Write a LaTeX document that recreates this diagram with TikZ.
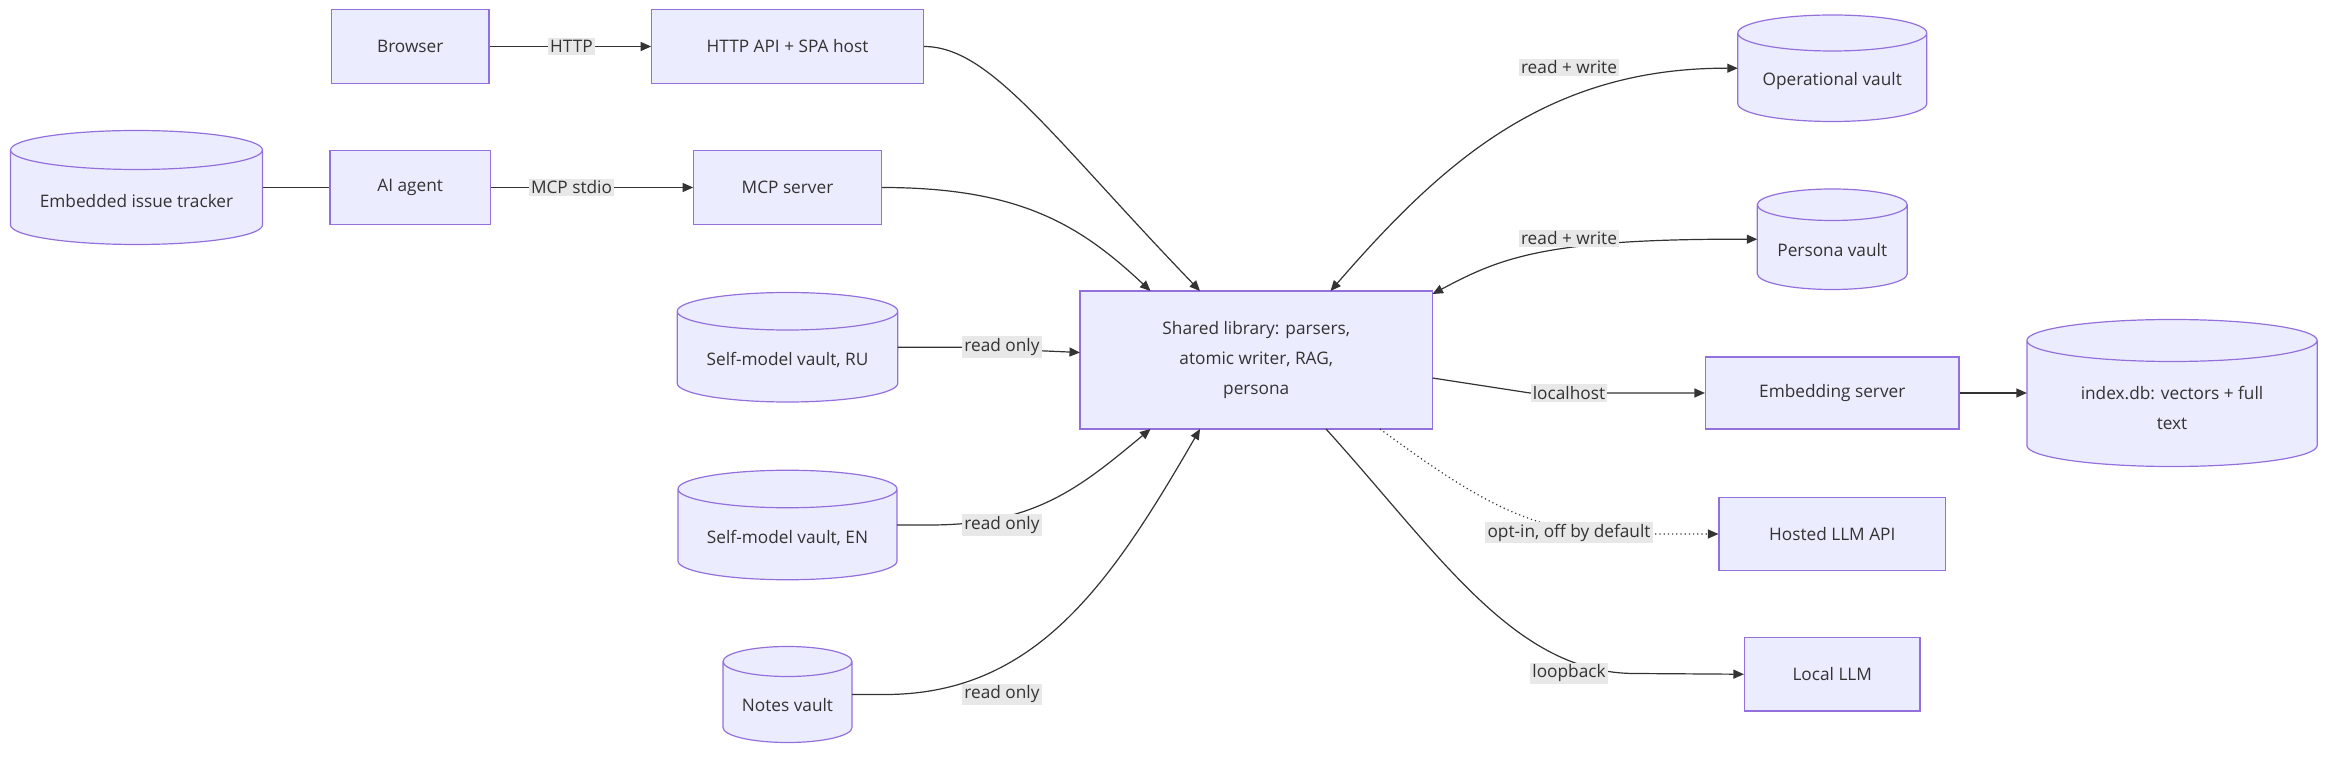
\documentclass[tikz,border=0pt]{standalone}
\usepackage{fontspec}
\setmainfont{Open Sans}
\usetikzlibrary{arrows.meta}
\definecolor{boxfill}{HTML}{ECECFF}
\definecolor{boxline}{HTML}{9370DB}
\definecolor{txt}{HTML}{333333}
\definecolor{lblbg}{HTML}{E8E8E8}
\tikzset{
  box/.style={draw=boxline, fill=boxfill, line width=0.8pt, text=txt, inner sep=0pt, align=center},
  cyltext/.style={text=txt, align=center, inner sep=0pt},
  anchorbox/.style={inner sep=0pt, outer sep=0pt},
  lbl/.style={fill=lblbg, text=txt, inner sep=1.5pt},
  edge/.style={draw=txt, line width=0.8pt},
  tip/.style={-{Triangle[length=7pt,width=6pt]}},
  every node/.append style={font=\fontsize{11.5}{20}\selectfont}
}
% name, cx, cy, w, h, ry, text
\newcommand\mycyl[7]{%
  \draw[draw=boxline, fill=boxfill, line width=0.8pt]
    ({#2-#4/2},{#3-#5/2+#6}) -- ({#2-#4/2},{#3+#5/2-#6})
    arc[start angle=180, end angle=0, x radius=#4/2, y radius=#6]
    -- ({#2+#4/2},{#3-#5/2+#6})
    arc[start angle=0, end angle=-180, x radius=#4/2, y radius=#6]
    arc[start angle=180, end angle=0, x radius=#4/2, y radius=#6];
  \node[anchorbox, minimum width=#4, minimum height=#5] (#1) at (#2,#3) {};
  \node[cyltext] (#1t) at (#2,{#3+#6*0.7}) {#7};
}
\begin{document}
\begin{tikzpicture}[x=1pt, y=-1pt]
\useasboundingbox (0,0) rectangle (1568,510);
% boxes
\node[box, minimum width=105, minimum height=49] (browser) at (273.5,31) {Browser};
\node[box, minimum width=181, minimum height=49] (api) at (525,31) {HTTP API + SPA host};
\node[box, minimum width=107, minimum height=49] (agent) at (273.5,125) {AI agent};
\node[box, minimum width=125, minimum height=49] (mcp) at (525,125) {MCP server};
\node[box, minimum width=235, minimum height=92] (shared) at (837.5,240) {Shared library: parsers,\\atomic writer, RAG,\\persona};
\node[box, minimum width=169, minimum height=48] (emb) at (1221.5,262) {Embedding server};
\node[box, minimum width=151, minimum height=48.5] (hosted) at (1221.5,356) {Hosted LLM API};
\node[box, minimum width=117, minimum height=49] (local) at (1221.5,449.5) {Local LLM};
% cylinders
\mycyl{tracker}{91}{125}{168}{76}{13}{Embedded issue tracker}
\mycyl{ru}{525}{231.5}{147}{73}{12.5}{Self-model vault, RU}
\mycyl{en}{525}{350}{146}{73}{12.5}{Self-model vault, EN}
\mycyl{notes}{525}{463}{86}{64}{10}{Notes vault}
\mycyl{op}{1221.5}{45.5}{126}{71}{12}{Operational vault}
\mycyl{persona}{1221.5}{159.5}{100}{67}{10.5}{Persona vault}
\mycyl{index}{1448}{262}{193.5}{98}{14}{index.db: vectors + full\\text}
% coordinates on shared
\coordinate (sA) at (767,194);
\coordinate (sB) at (800,194);
\coordinate (sC) at (887,194);
\coordinate (sD) at (955,196);
\coordinate (sE) at (955,252);
\coordinate (sF) at (767,286);
\coordinate (sG) at (800,286);
\coordinate (sH) at (884,286);
\coordinate (sI) at (920,286);
\coordinate (sL) at (720,235);
% edges
\draw[edge, tip] (browser) -- (api);
\draw[edge] (tracker) -- (agent);
\draw[edge, tip] (agent) -- (mcp);
\draw[edge, tip] (api.east) .. controls (660,31) and (700,90) .. (sB);
\draw[edge, tip] (mcp.east) .. controls (680,125) and (720,150) .. (sA);
\draw[edge, tip] (ru.east) -- (640,231.5) -- (sL);
\draw[edge, tip] (en.east) -- (620,350) .. controls (690,350) and (720,325) .. (sF);
\draw[edge, tip] (notes.east) -- (590,463) .. controls (690,463) and (740,390) .. (sG);
\draw[edge, <->, >={Triangle[length=7pt,width=6pt]}] (sC) .. controls (960,110) and (1030,45) .. (op.west);
\draw[edge, <->, >={Triangle[length=7pt,width=6pt]}] (sD) .. controls (1000,172) and (1030,159) .. (persona.west);
\draw[edge, tip] (sE) -- (1020,262) -- (emb.west);
\draw[edge, tip] (emb) -- (index);
\draw[edge, tip, dotted] (sI) .. controls (980,330) and (1020,356) .. (1080,356) -- (hosted.west);
\draw[edge, tip] (sH) .. controls (960,370) and (1010,449) .. (1090,449) -- (local.west);
% labels
\node[lbl] (l1) at (381,31) {HTTP};
\node[lbl] (l2) at (381,125) {MCP stdio};
\node[lbl] (l3) at (668,231.5) {read only};
\node[lbl] (l4) at (668,350) {read only};
\node[lbl] (l5) at (668,463) {read only};
\node[lbl] (l6) at (1046,45) {read + write};
\node[lbl] (l7) at (1046,159) {read + write};
\node[lbl] (l8) at (1046,262) {localhost};
\node[lbl] (l9) at (1046,355) {opt-in, off by default};
\node[lbl] (l10) at (1046,449) {loopback};
\end{tikzpicture}
\end{document}
